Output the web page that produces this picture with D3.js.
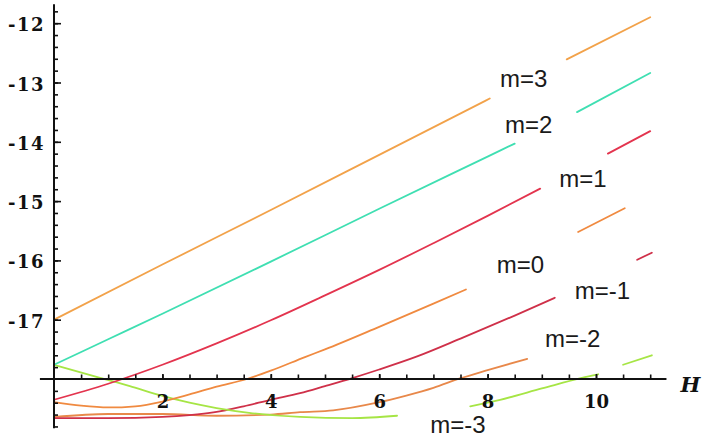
<!DOCTYPE html>
<html>
<head>
<meta charset="utf-8">
<script src="https://cdn.jsdelivr.net/npm/d3@7"></script>
<style>
  html, body { margin: 0; padding: 0; background: #fff; }
  svg { display: block; }
</style>
</head>
<body>
<svg id="chart" width="708" height="444"></svg>
<script>
// Energy levels E(H) for m = 3 … -3; null marks a break where a label sits.
const levelLabels = ["m=3", "m=2", "m=1", "m=0", "m=-1", "m=-2", "m=-3"];

const levelM3 = [[0,-17.00],[2,-16.07],[4,-15.15],[6,-14.22],[8.04,-13.27],null,[9.46,-12.61],[11,-11.90]];
const levelM2 = [[0,-17.76],[1,-17.33],[2,-16.90],[4,-16.02],[6,-15.13],[8,-14.25],[8.5,-14.03],null,[9.65,-13.50],[11,-12.84]];
const levelM1 = [[0,-18.35],[1,-18.08],[2,-17.76],[3,-17.40],[4,-17.01],[5,-16.59],[6,-16.16],[7,-15.71],[8,-15.25],[8.97,-14.79],null,[10.22,-14.20],[11,-13.82]];
const levelM0 = [[0,-18.39],[0.5,-18.45],[1,-18.48],[1.5,-18.46],[2,-18.38],[2.5,-18.26],[3,-18.13],[3.56,-18.00],[4,-17.86],[4.63,-17.63],[5,-17.50],[6,-17.12],[7,-16.73],[7.6,-16.49],null,[9.67,-15.52],[10.53,-15.12]];
const levelMm1 = [[0,-18.66],[1,-18.66],[2,-18.64],[2.5,-18.61],[2.97,-18.56],[3.5,-18.46],[4,-18.35],[4.54,-18.24],[5,-18.12],[5.52,-17.98],[6,-17.84],[6.7,-17.62],[7.5,-17.32],[8.5,-16.93],[9.24,-16.63],null,[10.76,-15.99],[11.03,-15.87]];
const levelMm2 = [[0,-18.64],[1,-18.59],[2,-18.59],[3,-18.62],[4,-18.60],[4.54,-18.56],[5.15,-18.53],[5.96,-18.40],[6.5,-18.28],[7,-18.15],[7.49,-17.99],[8,-17.85],[8.73,-17.66]];
const levelMm3 = [[0,-17.76],[0.85,-17.98],[1.4,-18.12],[1.9,-18.26],[2.5,-18.40],[3,-18.49],[3.6,-18.57],[4.54,-18.64],[5.5,-18.66],[6.33,-18.62],null,[7.68,-18.46],[8.23,-18.35],[9,-18.16],[9.74,-17.98],[10.04,-17.92],null,[10.5,-17.76],[11.03,-17.60]];

const levels = [levelM3, levelM2, levelM1, levelM0, levelMm1, levelMm2, levelMm3];

// Axis ticks
const yTickLabels = [-17, -16, -15, -14, -13, -12];
const xTickLabels = [2, 4, 6, 8, 10];

// Where each curve label starts (H, E of the text baseline)
const labelAnchors = [[8.23,-13.08],[8.32,-13.85],[9.32,-14.76],[8.17,-16.21],[9.61,-16.65],[9.06,-17.46],[6.94,-18.91]];

// Styling
const levelColors = ["#f2a24a", "#3fdfb2", "#e3344e", "#f08a40", "#cf3049", "#e8884a", "#a6e545"];
const drawOrder = [5, 4, 6, 3, 2, 1, 0];

const svg = d3.select("#chart");

const x = d3.scaleLinear().domain([0, 11]).range([54, 650.2]);
const y = d3.scaleLinear().domain([-18, -12]).range([379, 23.2]);

// Curves
const line = d3.line()
  .defined(d => d !== null)
  .x(d => x(d[0]))
  .y(d => y(d[1]))
  .curve(d3.curveMonotoneX);

const curves = svg.append("g").attr("class", "curves");
drawOrder.forEach(i => {
  curves.append("path")
    .datum(levels[i])
    .attr("d", line)
    .attr("fill", "none")
    .attr("stroke", levelColors[i])
    .attr("stroke-width", 1.8)
    .attr("stroke-linecap", "round")
    .attr("stroke-linejoin", "round");
});

// Axis lines (they run a little past the plotted range)
const axes = svg.append("g").attr("class", "axes");
axes.append("line")
  .attr("x1", x(0)).attr("x2", x(0))
  .attr("y1", y(-18.83)).attr("y2", y(-11.68))
  .attr("stroke", "#111").attr("stroke-width", 2);
axes.append("line")
  .attr("x1", x(-0.26)).attr("x2", x(11.3))
  .attr("y1", y(-18)).attr("y2", y(-18))
  .attr("stroke", "#111").attr("stroke-width", 2);

// Vertical axis: minor ticks every 0.2, labelled majors
const yMinor = d3.range(-94, -58).map(k => +(k * 0.2).toFixed(1)).filter(v => v !== -18);
const gyMinor = axes.append("g").attr("transform", `translate(${x(0)},0)`)
  .call(d3.axisLeft(y).tickValues(yMinor).tickSizeInner(-4).tickSizeOuter(0).tickFormat(""));
const gy = axes.append("g").attr("transform", `translate(${x(0)},0)`)
  .call(d3.axisLeft(y).tickValues(yTickLabels).tickSizeInner(-7).tickSizeOuter(0)
    .tickPadding(9).tickFormat(d => "-" + Math.abs(d)));

// Horizontal axis: minor ticks every 0.5, labelled majors
const xMinor = d3.range(1, 23).map(k => k * 0.5);
const gxMinor = axes.append("g").attr("transform", `translate(0,${y(-18)})`)
  .call(d3.axisBottom(x).tickValues(xMinor).tickSizeInner(-4.5).tickSizeOuter(0).tickFormat(""));
const gx = axes.append("g").attr("transform", `translate(0,${y(-18)})`)
  .call(d3.axisBottom(x).tickValues(xTickLabels).tickSizeInner(-5).tickSizeOuter(0).tickPadding(16));

[gyMinor, gy, gxMinor, gx].forEach(g => {
  g.select(".domain").remove();
  g.selectAll(".tick line").attr("stroke", "#111").attr("stroke-width", 1.6);
});
gy.selectAll("text")
  .attr("dy", "0.42em")
  .attr("fill", "#111")
  .style("font-family", "'DejaVu Serif', serif")
  .style("font-weight", "bold")
  .style("font-size", "18px")
  .style("letter-spacing", "1.5px");
gx.selectAll("text")
  .attr("fill", "#111")
  .style("font-family", "'DejaVu Serif', serif")
  .style("font-weight", "bold")
  .style("font-size", "18px");

// Axis title
svg.append("text")
  .attr("x", x(11.3) + 14)
  .attr("y", y(-18) + 13)
  .attr("fill", "#111")
  .style("font-family", "'DejaVu Serif', serif")
  .style("font-style", "italic")
  .style("font-weight", "bold")
  .style("font-size", "21px")
  .text("H");

// Curve labels
svg.append("g").attr("class", "labels")
  .selectAll("text")
  .data(levelLabels)
  .join("text")
  .attr("x", (d, i) => x(labelAnchors[i][0]))
  .attr("y", (d, i) => y(labelAnchors[i][1]))
  .attr("fill", "#1a1a1a")
  .style("font-family", "'Liberation Sans', Arial, sans-serif")
  .style("font-size", "24px")
  .text(d => d);
</script>
</body>
</html>
